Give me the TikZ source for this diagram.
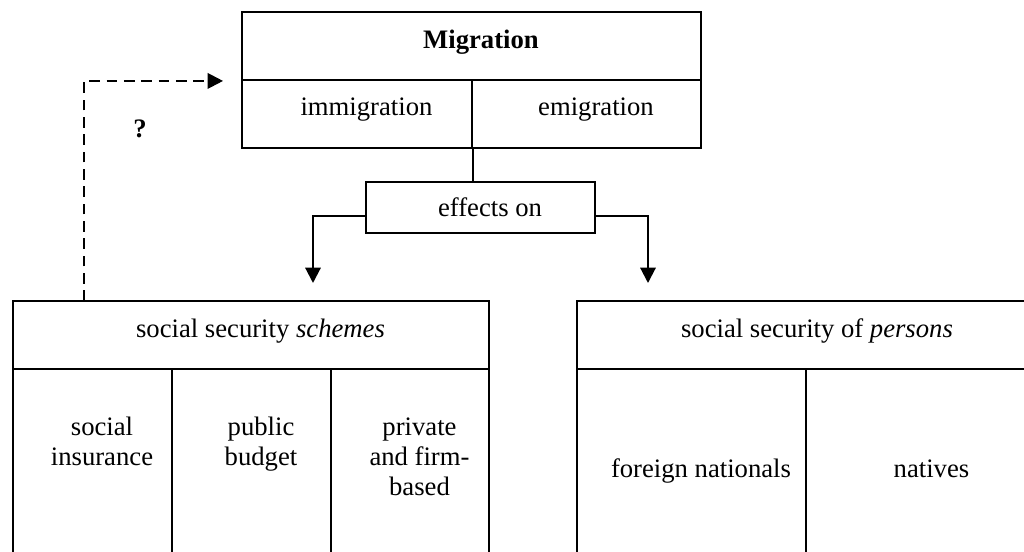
\documentclass[tikz,border=0pt]{standalone}
\usepackage{fontspec}
\setmainfont{Liberation Serif}
\usetikzlibrary{arrows.meta}
\begin{document}
\begin{tikzpicture}[x=0.75pt,y=-0.75pt,
  every node/.style={font=\fontsize{20}{22.5}\selectfont},
  cell/.style={draw=black,line width=1.4pt,rectangle,inner sep=0pt},
  txt/.style={inner sep=0pt,anchor=base,align=center},
  conn/.style={draw=black,line width=1.4pt},
  arr/.style={draw=black,line width=1.6pt,-{Triangle[length=11.5pt,width=11.5pt]}},
  dasharr/.style={draw=black,line width=1.6pt,dash pattern=on 8pt off 5pt,-{Triangle[length=11.5pt,width=11.5pt]},shorten >=13.5pt}]
\clip (0,0) rectangle (1024,552);
\fill[white] (0,0) rectangle (1024,552);
% top box
\node[cell,minimum width=344.25pt,minimum height=51pt] (mig) at (471.5,46) {};
\node[cell,minimum width=172.5pt,minimum height=51pt] (imm) at (357,114) {};
\node[cell,minimum width=171.75pt,minimum height=51pt] (emi) at (586.5,114) {};
\node[txt] (migt) at (481,49) {\textbf{Migration}};
\node[txt] (immt) at (366.5,116) {immigration};
\node[txt] (emit) at (596,116) {emigration};
% effects
\node[cell,minimum width=171.75pt,minimum height=38.25pt] (eff) at (480.5,207.5) {};
\node[txt] (efft) at (490,217) {effects on};
% schemes box
\node[cell,minimum width=357pt,minimum height=51pt] (sch) at (251,335) {};
\node[cell,minimum width=119.25pt,minimum height=173.25pt] (ins) at (92.5,484.5) {};
\node[cell,minimum width=119.25pt,minimum height=173.25pt] (bud) at (251.5,484.5) {};
\node[cell,minimum width=118.5pt,minimum height=173.25pt] (pri) at (410,484.5) {};
\node[txt] (scht) at (260.5,337) {social security \textit{schemes}};
\node[txt] (inst) at (102,465) {social\\insurance};
\node[txt] (budt) at (261,465) {public\\budget};
\node[txt] (prit) at (419.5,495) {private\\and firm-\\based};
% persons box
\node[cell,minimum width=345.75pt,minimum height=51pt] (per) at (807.5,335) {};
\node[cell,minimum width=171.75pt,minimum height=173.25pt] (for) at (691.5,484.5) {};
\node[cell,minimum width=174pt,minimum height=173.25pt] (nat) at (922,484.5) {};
\node[txt] (pert) at (817,337) {social security of \textit{persons}};
\node[txt] (fort) at (701,477) {foreign nationals};
\node[txt] (natt) at (931.5,477) {natives};
% question mark
\node[txt] (q) at (140,138) {\textbf{?}};
% connectors
\coordinate (la) at (313,283);
\coordinate (ra) at (648,283);
\coordinate (qs) at (84,301);
\draw[conn] (imm.south east) -- (imm.south east |- eff.north);
\draw[arr] ([yshift=-6.4pt]eff.west) -| (la);
\draw[arr] ([yshift=-6.4pt]eff.east) -| (ra);
\draw[dasharr] (qs) |- (mig.south west);
\end{tikzpicture}
\end{document}
